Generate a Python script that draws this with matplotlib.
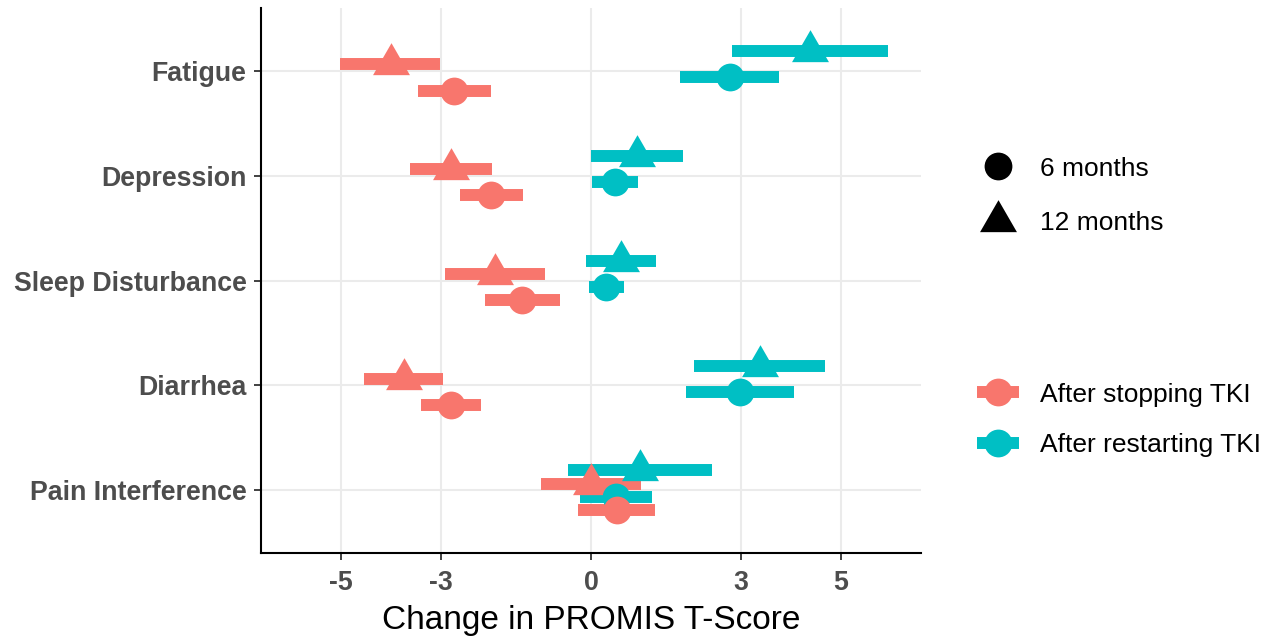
import matplotlib
matplotlib.use("Agg")
import matplotlib.pyplot as plt
from matplotlib.lines import Line2D
from matplotlib.path import Path

# PROMIS domains, top to bottom
categories = ["Fatigue", "Depression", "Sleep Disturbance", "Diarrhea", "Pain Interference"]

# change in T-score: estimate and interval, per phase and time point
stop_6_est = [-2.75, -2.00, -1.39, -2.80, 0.51]
stop_6_lo = [-3.47, -2.63, -2.13, -3.41, -0.27]
stop_6_hi = [-2.01, -1.37, -0.62, -2.21, 1.27]

stop_12_est = [-4.00, -2.81, -1.93, -3.74, 0.00]
stop_12_lo = [-5.02, -3.63, -2.92, -4.54, -1.01]
stop_12_hi = [-3.02, -1.99, -0.92, -2.97, 0.99]

restart_6_est = [2.77, 0.48, 0.29, 2.97, 0.49]
restart_6_lo = [1.78, 0.01, -0.05, 1.89, -0.22]
restart_6_hi = [3.76, 0.93, 0.65, 4.05, 1.21]

restart_12_est = [4.38, 0.91, 0.59, 3.38, 0.98]
restart_12_lo = [2.81, -0.01, -0.10, 2.06, -0.47]
restart_12_hi = [5.93, 1.83, 1.30, 4.68, 2.41]

x_ticks = [-5, -3, 0, 3, 5]
x_tick_labels = ["-5", "-3", "0", "3", "5"]

plt.rcParams["font.family"] = ["Liberation Sans", "DejaVu Sans"]

stop_col = "#F8766D"
restart_col = "#00BFC4"

# triangle with its centroid on the origin, like ggplot's shape 17
tri = Path([(0, 1), (-0.866, -0.5), (0.866, -0.5), (0, 1)], closed=True)
tri_size = 30.7
dot_size = 20
bar_lw = 8.6

fig = plt.figure(figsize=(12.66, 6.36), dpi=100)
ax = fig.add_axes([0.2062, 0.1305, 0.5213, 0.8569])

n = len(categories)
base_y = [n - i for i in range(n)]

groups = [
    (restart_12_est, restart_12_lo, restart_12_hi, restart_col, tri, tri_size, 0.1875),
    (stop_12_est, stop_12_lo, stop_12_hi, stop_col, tri, tri_size, 0.0625),
    (restart_6_est, restart_6_lo, restart_6_hi, restart_col, "o", dot_size, -0.0625),
    (stop_6_est, stop_6_lo, stop_6_hi, stop_col, "o", dot_size, -0.1875),
]

# interval bars first, points on top
for est, lo, hi, col, mk, ms, off in groups:
    ys = [b + off for b in base_y]
    ax.hlines(ys, lo, hi, color=col, lw=bar_lw, capstyle="butt", zorder=2)
for est, lo, hi, col, mk, ms, off in groups:
    ys = [b + off for b in base_y]
    ax.plot(est, ys, ls="none", marker=mk, ms=ms, color=col, mew=0, zorder=3)

ax.set_xlim(-6.6, 6.6)
ax.set_ylim(0.4, n + 0.6)
ax.set_xticks(x_ticks)
ax.set_xticklabels(x_tick_labels)
ax.set_yticks(base_y)
ax.set_yticklabels(categories)

ax.grid(True, color="#EBEBEB", lw=1.5)
ax.set_axisbelow(True)
for side in ["top", "right"]:
    ax.spines[side].set_visible(False)
for side in ["left", "bottom"]:
    ax.spines[side].set_color("black")
    ax.spines[side].set_linewidth(1.5)

ax.tick_params(axis="both", length=5, width=1.3, color="#333333",
               labelsize=19.3, labelcolor="#4D4D4D")
ax.tick_params(axis="x", pad=7)
ax.tick_params(axis="y", pad=5.5)
for lab in ax.get_xticklabels() + ax.get_yticklabels():
    lab.set_fontweight("bold")

ax.set_xlabel("Change in PROMIS T-Score", fontsize=24, color="black", labelpad=7)

# shape legend: time point
shape_handles = [
    Line2D([0], [0], ls="none", marker="o", ms=dot_size, color="black", mew=0),
    Line2D([0], [0], ls="none", marker=tri, ms=tri_size, color="black", mew=0),
]
leg1 = fig.legend(shape_handles, ["6 months", "12 months"], loc="center left",
                  bbox_to_anchor=(0.7717, 0.692), frameon=False, fontsize=19,
                  handlelength=1.6, handletextpad=0.8, labelspacing=1.15,
                  borderpad=0, borderaxespad=0, numpoints=1)

# colour legend: phase
colour_handles = [
    Line2D([0], [0], color=stop_col, lw=bar_lw, marker="o", ms=dot_size, mew=0,
           solid_capstyle="butt"),
    Line2D([0], [0], color=restart_col, lw=bar_lw, marker="o", ms=dot_size, mew=0,
           solid_capstyle="butt"),
]
leg2 = fig.legend(colour_handles, ["After stopping TKI", "After restarting TKI"],
                  loc="center left", bbox_to_anchor=(0.7717, 0.340), frameon=False,
                  fontsize=19, handlelength=1.6, handletextpad=0.8, labelspacing=1.0,
                  borderpad=0, borderaxespad=0, numpoints=1)

fig.savefig("out.png", dpi=100)
